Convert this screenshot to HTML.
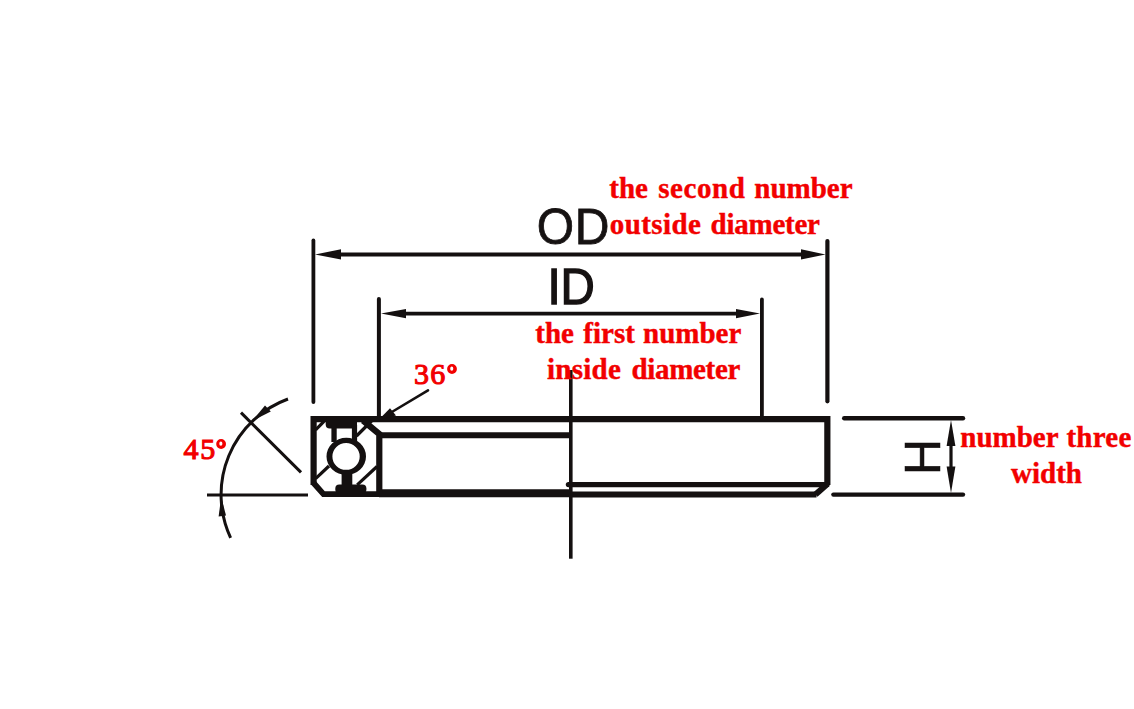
<!DOCTYPE html>
<html>
<head>
<meta charset="utf-8">
<style>
html,body{margin:0;padding:0;background:#fff;}
body{width:1134px;height:709px;overflow:hidden;position:relative;}
svg{position:absolute;left:0;top:0;display:block;}
.r{font-family:"Liberation Serif",serif;font-weight:bold;font-size:29px;fill:#f20000;stroke:#f20000;stroke-width:0.4px;}
.s{font-family:"Liberation Sans",sans-serif;fill:#161212;}
</style>
</head>
<body>
<svg width="1134" height="709" viewBox="0 0 1134 709">
<g stroke="#141010" fill="none">
  <!-- OD dimension -->
  <line x1="313.4" y1="240.5" x2="313.4" y2="402" stroke-width="3.8" stroke-linecap="round"/>
  <line x1="827.4" y1="241" x2="827.4" y2="401.3" stroke-width="4.2" stroke-linecap="round"/>
  <line x1="330" y1="254.4" x2="810" y2="254.4" stroke-width="4"/>
  <!-- ID dimension -->
  <line x1="378.9" y1="299" x2="378.9" y2="418" stroke-width="4" stroke-linecap="round"/>
  <line x1="761.9" y1="299.5" x2="761.9" y2="418" stroke-width="3.8" stroke-linecap="round"/>
  <line x1="395" y1="313.6" x2="745" y2="313.6" stroke-width="3.7"/>
  <!-- center line -->
  <line x1="570.8" y1="370" x2="570.8" y2="558.7" stroke-width="3.6"/>
</g>
<g fill="#141010">
  <polygon points="315,254.4 341,249.2 341,259.6"/>
  <polygon points="825.5,254.4 801,249.2 801,259.6"/>
  <polygon points="381,313.6 406,309 406,318.2"/>
  <polygon points="760,313.6 736,309 736,318.2"/>
</g>

<!-- OD / ID labels -->
<text class="s" font-size="50" letter-spacing="0.8" stroke="#161212" stroke-width="0.8" transform="translate(536.7 243.8) scale(0.96 1)">OD</text>
<text class="s" font-size="50" stroke="#161212" stroke-width="1.3" transform="translate(547.4 303.5) scale(0.95 1)">ID</text>

<!-- red labels -->
<text class="r" x="609.3" y="198">the</text>
<text class="r" x="658.2" y="198" letter-spacing="0.6">second</text>
<text class="r" x="754.3" y="198">number</text>
<text class="r" x="609.8" y="233.6" letter-spacing="0.4">outside</text>
<text class="r" x="710.5" y="233.6" letter-spacing="-0.24">diameter</text>
<text class="r" x="535.3" y="342.8">the</text>
<text class="r" x="583.3" y="342.8">first</text>
<text class="r" x="643" y="342.8">number</text>
<text class="r" x="546.9" y="378.5" letter-spacing="0.3">inside</text>
<text class="r" x="631.4" y="378.5" letter-spacing="-0.3">diameter</text>
<text class="r" x="960.3" y="446.5">number</text>
<text class="r" x="1066.4" y="446.5" letter-spacing="0.25">three</text>
<text class="r" x="1011" y="483">width</text>
<g class="r" style="font-family:'Liberation Serif',serif;font-weight:normal;font-size:30px;stroke-width:1.1px">
  <text transform="translate(183.4 459.4)">4</text>
  <text transform="translate(200.2 459.4)">5</text>
  <text transform="translate(414 384.4)">3</text>
  <text transform="translate(430.2 384.4)">6</text>
</g>
<path fill="#f20000" fill-rule="evenodd" d="M447.1 369 A4.9 4.9 0 1 0 456.9 369 A4.9 4.9 0 1 0 447.1 369 Z M450.2 368.65 A1.55 2.15 0 1 0 453.3 368.65 A1.55 2.15 0 1 0 450.2 368.65 Z M216.2 444 A4.9 4.9 0 1 0 226.0 444 A4.9 4.9 0 1 0 216.2 444 Z M219.29999999999998 443.65 A1.55 2.15 0 1 0 222.4 443.65 A1.55 2.15 0 1 0 219.29999999999998 443.65 Z"/>

<!-- bearing -->
<g stroke="#141010" fill="none">
  <path d="M313.6 485 L313.6 419.1 L827.35 419.1 L827.35 485" stroke-width="6.2"/>
  <path d="M313.6 483 L323.5 494.2 L380 494.2" stroke-width="5.8"/>
  <line x1="379" y1="493.2" x2="570.5" y2="493.2" stroke-width="8"/>
  <line x1="570" y1="494.6" x2="816.5" y2="494.6" stroke-width="6"/>
  <path d="M815.5 494.6 L827.35 484" stroke-width="6"/>
  <line x1="568.5" y1="484.6" x2="827" y2="484.6" stroke-width="5.4" stroke-linecap="round"/>
  <path d="M363 420.5 L379.3 434 L379.3 493" stroke-width="6.2"/>
  <line x1="379.3" y1="435.2" x2="571" y2="435.2" stroke-width="6"/>
  <!-- diagonals -->
  <line x1="315.6" y1="429.8" x2="324" y2="421.3" stroke-width="3.2"/>
  <line x1="356.5" y1="436" x2="372" y2="420.5" stroke-width="3.2"/>
  <line x1="315.6" y1="478.6" x2="329" y2="466" stroke-width="3.2"/>
  <line x1="357.2" y1="484.8" x2="377" y2="466.5" stroke-width="3.2"/>
</g>
<g fill="#141010">
  <!-- ball ring -->
  <path fill-rule="evenodd" d="M326.5 456.4 A19.75 18.6 0 1 0 366 456.4 A19.75 18.6 0 1 0 326.5 456.4 Z M332.4 456.4 A13.65 13.4 0 1 0 359.7 456.4 A13.65 13.4 0 1 0 332.4 456.4 Z"/>
  <!-- cage top -->
  <rect x="325.7" y="417" width="31.3" height="11.6" rx="4"/>
  <rect x="331.4" y="425" width="5.3" height="17"/>
  <rect x="351.9" y="425" width="5.2" height="16"/>
  <!-- cage bottom -->
  <rect x="341.6" y="470" width="10.7" height="18"/>
  <rect x="335.3" y="484.6" width="31.1" height="9" rx="4"/>
</g>

<!-- 36 deg arrow -->
<line x1="428" y1="390.3" x2="391" y2="412.5" stroke="#141010" stroke-width="2.6" stroke-linecap="round"/>
<polygon points="378.5,420 390,408.3 396,415.6" fill="#141010"/>

<!-- 45 deg -->
<g stroke="#141010" fill="none" stroke-width="3">
  <line x1="207" y1="495.1" x2="308" y2="495.1"/>
  <line x1="241" y1="412.6" x2="301" y2="472.4"/>
  <path d="M288 399 A102 102 0 0 0 230.6 537.8"/>
</g>
<polygon points="252,421 265,405.6 270.8,411.6" fill="#141010"/>
<polygon points="221.2,497 218.6,516.6 226,515.4" fill="#141010"/>

<!-- H dimension -->
<g stroke="#141010" fill="none">
  <line x1="844.2" y1="418.3" x2="963" y2="418.3" stroke-width="4.4" stroke-linecap="round"/>
  <line x1="833.4" y1="494.6" x2="963" y2="494.6" stroke-width="4.4" stroke-linecap="round"/>
  <line x1="951" y1="440" x2="951" y2="475" stroke-width="3.2"/>
</g>
<g fill="#141010">
  <polygon points="951,420 946.6,446 955.4,446"/>
  <polygon points="951,493 946.6,466.5 955.4,466.5"/>
</g>
<text class="s" font-size="50" stroke="#161212" stroke-width="0.5" transform="translate(940.2 474.9) rotate(-90)">H</text>
</svg>
</body>
</html>
